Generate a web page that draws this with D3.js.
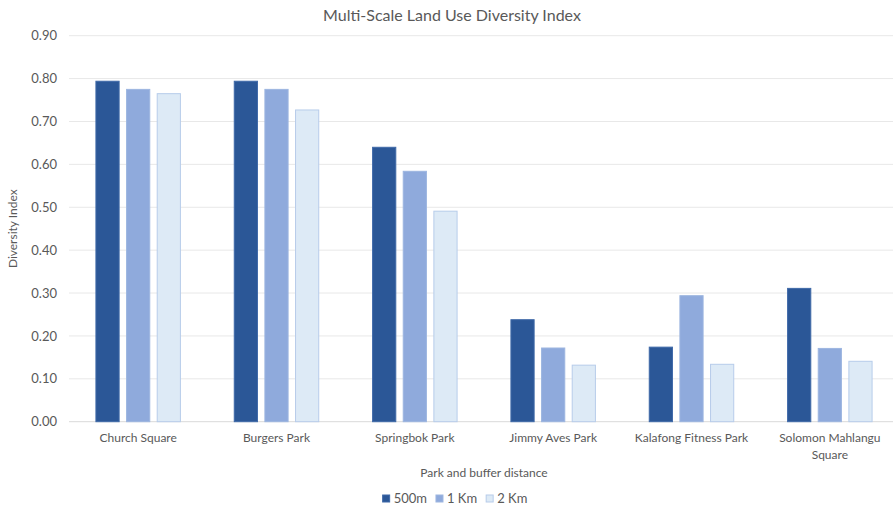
<!DOCTYPE html>
<html>
<head>
<meta charset="utf-8">
<script src="https://cdn.jsdelivr.net/npm/d3@7"></script>
<style>
  html, body { margin: 0; padding: 0; background: #fff; }
  svg { display: block; font-family: Lato, "Open Sans", sans-serif; }
</style>
</head>
<body>
<svg id="chart" width="893" height="506"></svg>
<script>
// Parks (x categories) and buffer distances (series)
const parks = ["Church Square", "Burgers Park", "Springbok Park", "Jimmy Aves Park", "Kalafong Fitness Park", "Solomon Mahlangu Square"];
const seriesNames = ["500m", "1 Km", "2 Km"];
const values500m = [0.795, 0.795, 0.641, 0.239, 0.175, 0.312];
const values1km  = [0.776, 0.776, 0.585, 0.173, 0.295, 0.172];
const values2km  = [0.766, 0.728, 0.492, 0.133, 0.135, 0.142];
const yTicks = [0, 0.1, 0.2, 0.3, 0.4, 0.5, 0.6, 0.7, 0.8, 0.9];

const fills   = ["#2B5797", "#8FAADC", "#DDEAF6"];
const strokes = ["#3F69A8", "#9DB6E0", "#B7CCEA"];
const textColor = "#595959";

const seriesValues = [values500m, values1km, values2km];
const rows = parks.map((p, i) => ({ park: p, vals: seriesValues.map(s => s[i]) }));

const svg = d3.select("#chart");
const plot = { left: 69, right: 899, top: 35.7, bottom: 421.7 };

const x0 = d3.scaleBand().domain(parks).range([plot.left, plot.right]).paddingInner(0.382).paddingOuter(0.191);
const x1 = d3.scaleBand().domain(seriesNames).range([0, x0.bandwidth()]).paddingInner(0.21);
const y = d3.scaleLinear().domain([0, 0.9]).range([plot.bottom, plot.top]);

// Horizontal gridlines
svg.append("g")
  .selectAll("line")
  .data(yTicks)
  .join("line")
  .attr("x1", plot.left).attr("x2", plot.right)
  .attr("y1", d => y(d)).attr("y2", d => y(d))
  .attr("stroke", d => d === 0 ? "#D9D9D9" : "#E8E8E8")
  .attr("stroke-width", 1);

// Y axis tick labels
const yAxis = d3.axisLeft(y).tickValues(yTicks).tickFormat(d3.format(".2f")).tickSize(0).tickPadding(12);
const yg = svg.append("g").attr("transform", `translate(${plot.left},0)`).call(yAxis);
yg.select(".domain").remove();
yg.selectAll("text").attr("fill", textColor).style("font-size", "13px").style("font-family", "Lato, 'Open Sans', sans-serif");

// Bars
const groups = svg.append("g")
  .selectAll("g")
  .data(rows)
  .join("g")
  .attr("transform", d => `translate(${x0(d.park)},0)`);

groups.selectAll("rect")
  .data(d => d.vals.map((v, i) => ({ key: seriesNames[i], v, i })))
  .join("rect")
  .attr("x", d => x1(d.key) + 0.5)
  .attr("width", x1.bandwidth() - 1)
  .attr("y", d => y(d.v) + 0.5)
  .attr("height", d => y(0) - y(d.v) - 0.5)
  .attr("fill", d => fills[d.i])
  .attr("stroke", d => strokes[d.i])
  .attr("stroke-width", 1);

// Category labels (wrapped where needed)
const xAxis = d3.axisBottom(x0).tickSize(0).tickPadding(11.5);
const xg = svg.append("g").attr("transform", `translate(0,${plot.bottom})`).call(xAxis);
xg.select(".domain").remove();
xg.selectAll("text")
  .attr("fill", textColor)
  .style("font-size", "12px")
  .style("font-family", "Lato, 'Open Sans', sans-serif")
  .each(function (d) {
    const t = d3.select(this);
    if (d === "Solomon Mahlangu Square") {
      t.text(null);
      t.append("tspan").attr("x", 0).attr("dy", "0.71em").text("Solomon Mahlangu");
      t.append("tspan").attr("x", 0).attr("dy", "1.4em").text("Square");
      t.attr("dy", null);
    }
  });

// Title
svg.append("text")
  .attr("x", 452).attr("y", 21)
  .attr("text-anchor", "middle")
  .attr("fill", textColor)
  .style("font-size", "16px")
  .text("Multi-Scale Land Use Diversity Index");

// Axis titles
svg.append("text")
  .attr("transform", `translate(17,${(plot.top + plot.bottom) / 2}) rotate(-90)`)
  .attr("text-anchor", "middle")
  .attr("fill", textColor)
  .style("font-size", "12px")
  .text("Diversity Index");

svg.append("text")
  .attr("x", 484).attr("y", 477)
  .attr("text-anchor", "middle")
  .attr("fill", textColor)
  .style("font-size", "12px")
  .text("Park and buffer distance");

// Legend: swatch + label per series, centred under the plot
const legend = svg.append("g");
const li = legend.selectAll("g").data(seriesNames).join("g");
li.append("rect")
  .attr("y", -8).attr("width", 7).attr("height", 7)
  .attr("fill", (d, i) => fills[i])
  .attr("stroke", (d, i) => strokes[i]);
li.append("text")
  .attr("y", 0)
  .attr("fill", textColor)
  .style("font-size", "13px")
  .text(d => d);

let cursor = 0;
li.each(function () {
  const g = d3.select(this);
  g.select("rect").attr("x", cursor);
  g.select("text").attr("x", cursor + 11);
  cursor += 11 + g.select("text").node().getComputedTextLength() + 9;
});
const total = cursor - 9;
legend.attr("transform", `translate(${455 - total / 2},503)`);
</script>
</body>
</html>
